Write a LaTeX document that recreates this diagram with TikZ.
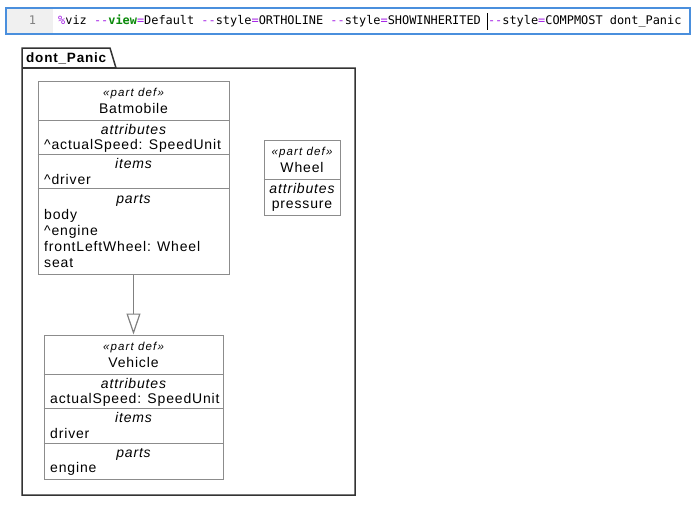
\documentclass[tikz,border=0pt]{standalone}
\usepackage{fontspec}
\usepackage{xcolor}
\usetikzlibrary{arrows.meta, calc}
\newfontfamily\umlfont[LetterSpace=6]{Liberation Sans}
\newfontfamily\stereofont[LetterSpace=10]{Liberation Sans}
\newfontfamily\codefont{DejaVu Sans Mono}
\definecolor{edborder}{HTML}{4A8FDD}
\definecolor{gutter}{HTML}{F0F0F0}
\definecolor{kwpurple}{HTML}{A41FE6}
\definecolor{kwgreen}{HTML}{0B8A0B}
\definecolor{umlgray}{HTML}{8C8C8C}
\definecolor{frameclr}{HTML}{333333}

\begin{document}
\begin{tikzpicture}[
    x=1pt, y=-1pt,
    partbox/.style={draw=umlgray, line width=1pt, fill=white, inner sep=0pt},
    sep/.style={draw=umlgray, line width=1.3pt},
    stereo/.style={font=\stereofont\fontsize{11.5}{13}\selectfont\itshape, inner sep=0pt, anchor=base},
    title/.style={font=\umlfont\fontsize{14}{16}\selectfont, inner sep=0pt, anchor=base},
    comp/.style={font=\umlfont\fontsize{14}{16}\selectfont\itshape, inner sep=0pt, anchor=base},
    feat/.style={font=\umlfont\fontsize{14}{16}\selectfont, inner sep=0pt, anchor=base west},
    gen/.style={draw=gray, line width=1.2pt, -{Triangle[open, length=21pt, width=14pt, fill=white]}},
]
  \useasboundingbox (0,0) rectangle (691,509);
  % Editor line
  \draw[edborder, line width=1.2pt, fill=white] (6,8) rectangle (690,34);
  \fill[gutter] (6.6,8.6) rectangle (53,33.4);
  \node[font=\codefont\fontsize{11.9}{14}\selectfont, text=gray, inner sep=0pt, anchor=base] (lineno) at (32.5,24.5) {1};
  \node[font=\codefont\fontsize{11.9}{14}\selectfont, inner sep=0pt, anchor=base west] (code) at (58,24.5)
    {\textcolor{kwpurple}{\%}viz \textcolor{kwpurple}{--}\textcolor{kwgreen}{\bfseries view}\textcolor{kwpurple}{=}Default
     \textcolor{kwpurple}{--}style\textcolor{kwpurple}{=}ORTHOLINE
     \textcolor{kwpurple}{--}style\textcolor{kwpurple}{=}SHOWINHERITED
     \textcolor{kwpurple}{--}style\textcolor{kwpurple}{=}COMPMOST dont\_Panic};
  \draw[black, line width=0.8pt] (487.3,13) -- (487.3,30);
  % Package frame
  \draw[frameclr, line width=1.5pt] (22,48) -- (110,48) -- (116,68) -- (355,68) -- (355,495) -- (22,495) -- cycle;
  \draw[frameclr, line width=1.5pt] (22,68) -- (116,68);
  \node[font=\umlfont\fontsize{13.5}{16}\selectfont\bfseries, inner sep=0pt, anchor=base west] (pkg) at (26,62) {dont\_Panic};
  % Batmobile
  \node[partbox, minimum width=191pt, minimum height=193pt] (bat) at (133.5,177.5) {};
  \draw[sep] ($(bat.north west)+(0,40)$) -- ($(bat.north east)+(0,40)$);
  \draw[sep] ($(bat.north west)+(0,74)$) -- ($(bat.north east)+(0,74)$);
  \draw[sep] ($(bat.north west)+(0,108)$) -- ($(bat.north east)+(0,108)$);
  \node[stereo] (batst) at (133.5,96) {«part def»};
  \node[title] (batname) at (133.5,113) {Batmobile};
  \node[comp] (batattr) at (133.5,134.5) {attributes};
  \node[feat] (batspeed) at (44,149.5) {\^{}actualSpeed: SpeedUnit};
  \node[comp] (batitems) at (133.5,168.5) {items};
  \node[feat] (batdriver) at (44,184) {\^{}driver};
  \node[comp] (batparts) at (133.5,203) {parts};
  \node[feat] (batbody) at (44,219) {body};
  \node[feat] (batengine) at (44,235) {\^{}engine};
  \node[feat] (batwheel) at (44,251) {frontLeftWheel: Wheel};
  \node[feat] (batseat) at (44,267) {seat};
  % Wheel
  \node[partbox, minimum width=76pt, minimum height=75pt] (wheel) at (302,177.5) {};
  \draw[sep] ($(wheel.north west)+(0,40)$) -- ($(wheel.north east)+(0,40)$);
  \node[stereo] (wheelst) at (302,155) {«part def»};
  \node[title] (wheelname) at (302,172) {Wheel};
  \node[comp] (wheelattr) at (302,193) {attributes};
  \node[title] (wheelpress) at (302,208) {pressure};
  % Vehicle
  \node[partbox, minimum width=179pt, minimum height=144pt] (veh) at (133.5,407) {};
  \draw[sep] ($(veh.north west)+(0,40)$) -- ($(veh.north east)+(0,40)$);
  \draw[sep] ($(veh.north west)+(0,74)$) -- ($(veh.north east)+(0,74)$);
  \draw[sep] ($(veh.north west)+(0,109)$) -- ($(veh.north east)+(0,109)$);
  \node[stereo] (vehst) at (133.5,350) {«part def»};
  \node[title] (vehname) at (133.5,367) {Vehicle};
  \node[comp] (vehattr) at (133.5,388) {attributes};
  \node[feat] (vehspeed) at (50,403.5) {actualSpeed: SpeedUnit};
  \node[comp] (vehitems) at (133.5,422) {items};
  \node[feat] (vehdriver) at (50,438) {driver};
  \node[comp] (vehparts) at (133.5,457) {parts};
  \node[feat] (vehengine) at (50,472.5) {engine};
  % Specialization
  \draw[gen] (bat.south) -- (veh.north);
\end{tikzpicture}
\end{document}
